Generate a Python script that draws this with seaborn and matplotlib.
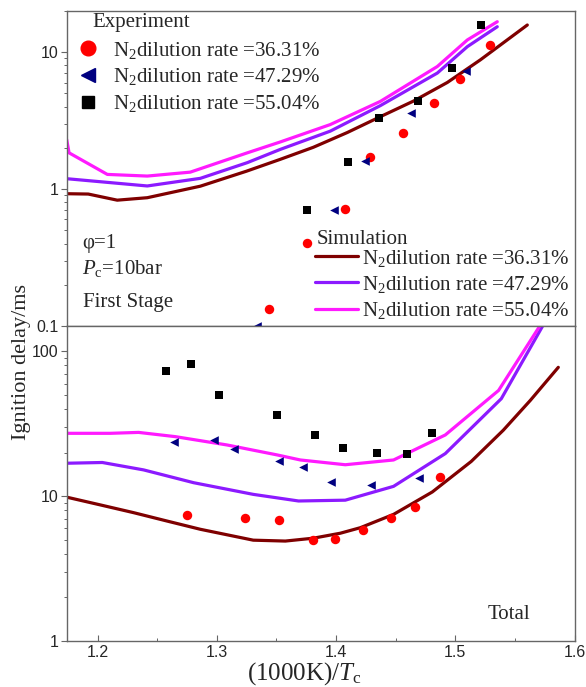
import matplotlib
matplotlib.use("Agg")
import matplotlib.pyplot as plt
import seaborn as sns
import pandas as pd
from matplotlib.lines import Line2D
from matplotlib.ticker import LogLocator, FuncFormatter, MultipleLocator, NullFormatter

# ---- data -------------------------------------------------------------
rates = ["36.31", "47.29", "55.04"]

# First stage, simulation
fs_sim_x_1 = [1.1745, 1.1921, 1.2164, 1.2416, 1.2861, 1.3247, 1.3532, 1.3809, 1.4094, 1.4371, 1.4648, 1.4933, 1.5210, 1.5604]
fs_sim_y_1 = [0.925, 0.92, 0.83, 0.865, 1.05, 1.35, 1.65, 2.02, 2.59, 3.38, 4.39, 6.01, 8.79, 15.8]
fs_sim_x_2 = [1.1745, 1.2416, 1.2861, 1.3255, 1.3532, 1.3951, 1.4371, 1.4849, 1.5101, 1.5352]
fs_sim_y_2 = [1.19, 1.054, 1.198, 1.56, 1.95, 2.65, 4.07, 7.04, 10.98, 15.35]
fs_sim_x_3 = [1.1740, 1.1760, 1.2081, 1.2416, 1.2777, 1.3255, 1.3532, 1.3951, 1.4371, 1.4849, 1.5101, 1.5352]
fs_sim_y_3 = [2.30, 1.84, 1.28, 1.245, 1.33, 1.84, 2.21, 2.96, 4.37, 7.86, 12.29, 16.7]

# First stage, experiment
fs_exp_x_1 = [1.3435, 1.3758, 1.4071, 1.4283, 1.4561, 1.4824, 1.5042, 1.5288]
fs_exp_y_1 = [0.134, 0.407, 0.71, 1.72, 2.58, 4.23, 6.36, 11.3]
fs_exp_x_2 = [1.3335, 1.3985, 1.4245, 1.4631, 1.5090]
fs_exp_y_2 = [0.100, 0.707, 1.60, 3.60, 7.31]
fs_exp_x_3 = [1.3752, 1.4102, 1.4364, 1.4684, 1.4972, 1.5212]
fs_exp_y_3 = [0.707, 1.59, 3.31, 4.41, 7.73, 15.7]

# Total, simulation
tot_sim_x_1 = [1.1743, 1.2022, 1.2301, 1.2581, 1.2861, 1.3305, 1.3574, 1.3809, 1.4035, 1.4203, 1.4482, 1.4807, 1.5134, 1.5403, 1.5629, 1.5864]
tot_sim_y_1 = [9.84, 8.71, 7.70, 6.74, 5.91, 4.97, 4.90, 5.13, 5.55, 6.06, 7.49, 10.7, 17.4, 28.6, 45.9, 77.7]
tot_sim_x_2 = [1.1743, 1.2039, 1.2385, 1.2805, 1.3305, 1.3685, 1.4077, 1.4482, 1.4916, 1.5386, 1.5765]
tot_sim_y_2 = [16.9, 17.1, 15.2, 12.4, 10.3, 9.27, 9.39, 11.7, 19.7, 47.2, 167]
tot_sim_x_3 = [1.1743, 1.2106, 1.2343, 1.2651, 1.3085, 1.3504, 1.3700, 1.4077, 1.4482, 1.4916, 1.5363, 1.5745]
tot_sim_y_3 = [27.2, 27.2, 27.6, 25.8, 22.6, 19.3, 17.8, 16.5, 17.8, 26.5, 53.8, 167]

# Total, experiment
tot_exp_x_1 = [1.2749, 1.3238, 1.3525, 1.3807, 1.3987, 1.4228, 1.4463, 1.4658, 1.4874]
tot_exp_y_1 = [7.38, 7.04, 6.82, 4.97, 5.09, 5.82, 7.04, 8.46, 13.5]
tot_exp_x_2 = [1.2644, 1.2972, 1.3143, 1.3518, 1.3725, 1.3954, 1.4289, 1.4692]
tot_exp_y_2 = [23.8, 24.6, 21.2, 17.6, 16.0, 12.5, 11.9, 13.3]
tot_exp_x_3 = [1.2573, 1.2783, 1.3014, 1.3504, 1.3821, 1.4056, 1.4340, 1.4591, 1.4807]
tot_exp_y_3 = [72.9, 82.1, 49.9, 36.4, 26.5, 21.6, 19.8, 19.6, 27.4]

x_ticks = [1.2, 1.3, 1.4, 1.5, 1.6]

# ---- styling ----------------------------------------------------------
sns.set_style("ticks")
plt.rcParams.update({
    "font.family": ["Liberation Sans", "DejaVu Sans"],
    "mathtext.fontset": "custom",
    "mathtext.rm": "Liberation Serif",
    "mathtext.it": "Liberation Serif:italic",
    "mathtext.bf": "Liberation Serif:bold",
    "axes.edgecolor": "#666666",
    "axes.linewidth": 1.0,
})
SERIF = ["Liberation Serif", "DejaVu Serif"]
line_colors = ["#7f0000", "#8c1aff", "#ff1aff"]
exp_colors = ["#ff0000", "#000080", "#000000"]
exp_markers = ["o", "<", "s"]
exp_sizes = [6.8, 6.2, 5.4]
LW = 2.3

fig = plt.figure(figsize=(5.86, 6.87), dpi=100)
ax_top = fig.add_axes([0.1138, 0.5255, 0.8666, 0.4585])
ax_bot = fig.add_axes([0.1138, 0.0670, 0.8666, 0.4585])

def draw_panel(ax, sim_x, sim_y, exp_x, exp_y):
    for i in range(3):
        df = pd.DataFrame({"x": sim_x[i], "y": sim_y[i]})
        sns.lineplot(data=df, x="x", y="y", ax=ax, color=line_colors[i],
                     lw=LW, sort=False, estimator=None, zorder=2)
    for i in range(3):
        df = pd.DataFrame({"x": exp_x[i], "y": exp_y[i]})
        sns.scatterplot(data=df, x="x", y="y", ax=ax, color=exp_colors[i],
                        marker=exp_markers[i], s=exp_sizes[i] ** 2,
                        linewidth=0, zorder=3)

draw_panel(ax_top,
           [fs_sim_x_1, fs_sim_x_2, fs_sim_x_3], [fs_sim_y_1, fs_sim_y_2, fs_sim_y_3],
           [fs_exp_x_1, fs_exp_x_2, fs_exp_x_3], [fs_exp_y_1, fs_exp_y_2, fs_exp_y_3])
draw_panel(ax_bot,
           [tot_sim_x_1, tot_sim_x_2, tot_sim_x_3], [tot_sim_y_1, tot_sim_y_2, tot_sim_y_3],
           [tot_exp_x_1, tot_exp_x_2, tot_exp_x_3], [tot_exp_y_1, tot_exp_y_2, tot_exp_y_3])

plain = FuncFormatter(lambda v, p: f"{v:g}")
for ax, lims in ((ax_top, (0.1, 20)), (ax_bot, (1, 150))):
    ax.set_yscale("log")
    ax.set_ylim(*lims)
    ax.set_xlim(1.174, 1.6)
    ax.set_xlabel("")
    ax.set_ylabel("")
    ax.yaxis.set_major_locator(LogLocator(base=10))
    ax.yaxis.set_minor_locator(LogLocator(base=10, subs=range(2, 10)))
    ax.yaxis.set_major_formatter(plain)
    ax.yaxis.set_minor_formatter(NullFormatter())
    ax.tick_params(axis="y", which="major", direction="out", length=4,
                   width=0.8, color="#666666", labelsize=11.5, pad=2)
    ax.tick_params(axis="y", which="minor", direction="out", length=2.5,
                   width=0.7, color="#666666")
    for s in ax.spines.values():
        s.set_visible(True)
        s.set_color("#666666")

ax_top.tick_params(axis="x", which="both", bottom=False, labelbottom=False)
ax_bot.set_xticks(x_ticks)
ax_bot.xaxis.set_minor_locator(MultipleLocator(0.05))
ax_bot.xaxis.set_major_formatter(FuncFormatter(lambda v, p: f"{v:.1f}"))
ax_bot.tick_params(axis="x", which="major", direction="in", length=4,
                   width=0.8, color="#666666", labelsize=11.5, pad=3)
ax_bot.tick_params(axis="x", which="minor", direction="in", length=2.5,
                   width=0.7, color="#666666")

# ---- legends ----------------------------------------------------------
FS = 15
labels = [f"N$_2$dilution rate ={r}%" for r in rates]
exp_handles = [Line2D([], [], ls="none", marker=m, color=c, markersize=s * 1.55)
               for m, c, s in zip(exp_markers, exp_colors, exp_sizes)]
leg1 = ax_top.legend(exp_handles, labels, loc="upper left",
                     bbox_to_anchor=(0.0215, 0.909), frameon=False,
                     prop={"family": SERIF, "size": FS}, handlelength=1.0,
                     handletextpad=0.7, labelspacing=0.27, borderpad=0,
                     borderaxespad=0)
ax_top.add_artist(leg1)
sim_handles = [Line2D([], [], color=c, lw=LW) for c in line_colors]
ax_top.legend(sim_handles, labels, loc="upper left",
              bbox_to_anchor=(0.489, 0.249), frameon=False,
              prop={"family": SERIF, "size": FS}, handlelength=2.07,
              handletextpad=0.2, labelspacing=0.25, borderpad=0,
              borderaxespad=0)

ax_top.text(0.0498, 0.962, "Experiment", transform=ax_top.transAxes,
            family=SERIF, fontsize=FS, va="center", ha="left")
ax_top.text(0.493, 0.273, "Simulation", transform=ax_top.transAxes,
            family=SERIF, fontsize=FS, va="center", ha="left")
ax_top.text(0.030, 0.262, "φ=1", transform=ax_top.transAxes,
            family=SERIF, fontsize=FS, va="center", ha="left")
ax_top.text(0.030, 0.181, r"$P_{\mathrm{c}}$=10bar", transform=ax_top.transAxes,
            family=SERIF, fontsize=FS, va="center", ha="left")
ax_top.text(0.032, 0.076, "First Stage", transform=ax_top.transAxes,
            family=SERIF, fontsize=FS, va="center", ha="left")
ax_bot.text(0.828, 0.085, "Total", transform=ax_bot.transAxes,
            family=SERIF, fontsize=FS, va="center", ha="left")

fig.text(0.037, 0.473, "Ignition delay/ms", rotation=90, family=SERIF,
         fontsize=16, va="center", ha="center")
fig.text(0.52, 0.020, r"(1000K)/$T_{\mathrm{c}}$", family=SERIF,
         fontsize=18, va="center", ha="center")

fig.savefig("out.png", dpi=100)
